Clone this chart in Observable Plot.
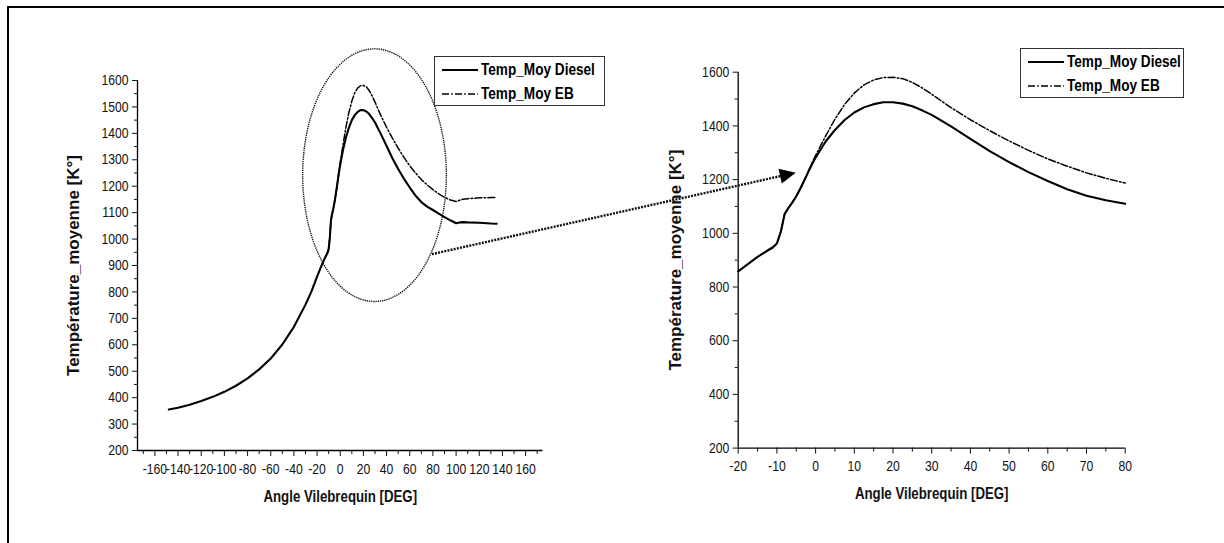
<!DOCTYPE html>
<html>
<head>
<meta charset="utf-8">
<script src="https://cdn.jsdelivr.net/npm/d3@7"></script>
<script src="https://cdn.jsdelivr.net/npm/@observablehq/plot@0.6"></script>
<style>
  html, body { margin: 0; padding: 0; background: #fff; }
  #page { position: relative; width: 1224px; height: 543px; overflow: hidden; background: #fff; }
  #frame { position: absolute; left: 7px; top: 6px; width: 1400px; height: 700px;
           border-left: 2px solid #000; border-top: 2px solid #000; }
  .chart { position: absolute; top: 0; }
  #overlay { position: absolute; left: 0; top: 0; pointer-events: none; }
  .legend { position: absolute; background: #fff; border: 1px solid #333;
            font: bold 17px "Liberation Sans", Arial, sans-serif; color: #000; }
  .legend .row { position: absolute; left: 0; height: 20px; display: flex; align-items: center; white-space: nowrap; }
  .legend svg { display: block; margin-right: 3px; }
  .legend span { display: inline-block; transform: scaleX(0.8); transform-origin: 0 50%; }
</style>
</head>
<body>
<div id="page">
  <div id="frame"></div>
</div>
<script>
// Mean in-cylinder temperature versus crank angle, diesel vs EB fuel
const angleDiesel = [-148, -140, -130, -120, -110, -100, -90, -80, -70, -60, -50, -40, -30, -25,
  -20, -17.5, -15, -12.5, -11, -10, -9, -8, -7, -6, -5, -4, -3, -2, -1, 0, 2.5, 5, 7.5, 10, 12.5,
  15, 17.5, 20, 22.5, 25, 27.5, 30, 35, 40, 45, 50, 55, 60, 65, 70, 75, 80, 85, 90, 95, 100, 103,
  106, 110, 120, 130, 135];
const tempDiesel = [355, 362, 373, 387, 403, 422, 445, 473, 507, 548, 601, 668, 752, 800,
  858, 885, 912, 935, 948, 962, 1005, 1072, 1095, 1115, 1138, 1165, 1195, 1225, 1255, 1282, 1340,
  1385, 1422, 1450, 1469, 1481, 1488, 1488, 1483, 1473, 1458, 1441, 1398, 1352, 1306, 1265, 1228,
  1195, 1164, 1140, 1123, 1110, 1096, 1083, 1071, 1060, 1063, 1064, 1063, 1062, 1059, 1058];

const angleEB = [-12.5, -11, -10, -9, -8, -7, -6, -5, -4, -3, -2, -1, 0, 2.5, 5, 7.5, 10, 12.5,
  15, 17.5, 20, 22.5, 25, 27.5, 30, 35, 40, 45, 50, 55, 60, 65, 70, 75, 80, 85, 90, 95, 100, 103,
  106, 110, 120, 130, 135];
const tempEB = [935, 948, 962, 1005, 1072, 1095, 1115, 1138, 1165, 1195, 1227, 1260, 1290, 1360,
  1425, 1480, 1522, 1553, 1571, 1580, 1581, 1576, 1562, 1542, 1518, 1468, 1423, 1382, 1344, 1309,
  1277, 1250, 1225, 1205, 1187, 1171, 1158, 1148, 1142, 1147, 1151, 1153, 1156, 1157, 1157];

const seriesNames = ["Temp_Moy Diesel", "Temp_Moy EB"];
const xTitle = "Angle Vilebrequin [DEG]";
const yTitle = "Température_moyenne [K°]";

// Full-cycle view
const fullX = { domain: [-175, 175], labeled: d3.range(-160, 161, 20), minor: d3.range(-170, 171, 20) };
const fullY = { domain: [200, 1600], labeled: d3.range(200, 1601, 100), minor: d3.range(250, 1551, 100) };
// Zoom on combustion
const zoomX = { domain: [-20, 80], labeled: d3.range(-20, 81, 10), minor: d3.range(-15, 76, 10) };
const zoomY = { domain: [200, 1600], labeled: d3.range(200, 1601, 200), minor: d3.range(300, 1501, 200) };

// Highlighted region on the full-cycle view (centre and radii in data units)
const focus = { angle: 30, temp: 1240, rAngle: 62, rTemp: 478 };
// Arrow from the highlighted region to the zoomed curve
const arrowFrom = { angle: 79.5, temp: 941 };
const arrowTo = { angle: -5, temp: 1224 };

const dieselRows = angleDiesel.map((a, i) => ({ angle: a, temp: tempDiesel[i] }));
const ebRows = angleEB.map((a, i) => ({ angle: a, temp: tempEB[i] }));

const FONT = '"Liberation Sans", Arial, sans-serif';
const EB_DASH = "7,2.2,1.6,2.2";
const plain = (d) => String(d);

function chart(opts) {
  const { xs, ys, rows, width, height, margin, ytitleDx } = opts;
  const inDomain = (d) => d.angle >= xs.domain[0] && d.angle <= xs.domain[1];
  const svg = Plot.plot({
    width, height,
    marginLeft: margin.left, marginRight: margin.right,
    marginTop: margin.top, marginBottom: margin.bottom,
    x: { domain: xs.domain },
    y: { domain: ys.domain },
    style: { fontFamily: FONT, fontSize: "14.5px", color: "#111", background: "transparent", overflow: "visible" },
    marks: [
      Plot.axisX({ ticks: xs.labeled, tickSize: 6, tickPadding: 7, tickFormat: plain, label: null, fontSize: 14.5 }),
      Plot.axisX({ ticks: xs.minor, tickSize: 4, tickFormat: () => "", label: null }),
      Plot.axisY({ ticks: ys.labeled, tickSize: 5, tickPadding: 4, tickFormat: plain, label: null, fontSize: 14.5 }),
      Plot.axisY({ ticks: ys.minor, tickSize: 3, tickFormat: () => "", label: null }),
      Plot.ruleX([xs.domain[0]], { stroke: "#000", strokeWidth: 1.3 }),
      Plot.ruleY([ys.domain[0]], { stroke: "#000", strokeWidth: 1.3 }),
      Plot.line(rows.diesel.filter(inDomain), { x: "angle", y: "temp", stroke: "#000", strokeWidth: 2.1, strokeLinejoin: "round" }),
      Plot.line(rows.eb.filter(inDomain), { x: "angle", y: "temp", stroke: "#000", strokeWidth: 1.5, strokeDasharray: EB_DASH }),
      Plot.text([xTitle], { text: (d) => d, frameAnchor: "bottom", dy: 51, fontWeight: "bold", fontSize: 17 }),
      Plot.text([yTitle], { text: (d) => d, frameAnchor: "left", textAnchor: "middle", dx: ytitleDx, rotate: -90, fontWeight: "bold", fontSize: 17 })
    ]
  });
  // condensed lettering for ticks and the horizontal title
  svg.querySelectorAll("text").forEach((t) => {
    const tr = t.getAttribute("transform") || "";
    if (tr.includes("rotate")) return;
    const k = t.textContent === xTitle ? 0.78 : 0.84;
    t.setAttribute("transform", (tr + ` scale(${k},1)`).trim());
  });
  return svg;
}

const rows = { diesel: dieselRows, eb: ebRows };
const page = document.getElementById("page");

const leftPos = { left: 0, width: 612 };
const rightPos = { left: 612, width: 612 };

const leftChart = chart({
  xs: fullX, ys: fullY, rows, width: 612, height: 543,
  margin: { left: 137, right: 612 - 542.5, top: 80, bottom: 93 }, ytitleDx: -64
});
const rightChart = chart({
  xs: zoomX, ys: zoomY, rows, width: 612, height: 543,
  margin: { left: 125.7, right: 612 - 512.7, top: 71.7, bottom: 95.4 }, ytitleDx: -63
});

for (const [c, pos] of [[leftChart, leftPos], [rightChart, rightPos]]) {
  c.classList.add("chart");
  c.style.left = pos.left + "px";
  page.appendChild(c);
}

// Page-level scales built from each chart's own scale descriptors
function pageScales(c, pos) {
  const sx = c.scale("x"), sy = c.scale("y");
  return {
    x: d3.scaleLinear(sx.domain, sx.range.map((r) => r + pos.left)),
    y: d3.scaleLinear(sy.domain, sy.range)
  };
}
const L = pageScales(leftChart, leftPos);
const R = pageScales(rightChart, rightPos);

const overlay = d3.select(page).append("svg")
  .attr("id", "overlay").attr("width", 1224).attr("height", 543);

// dotted ellipse around the combustion region
const cx = L.x(focus.angle), cy = L.y(focus.temp);
overlay.append("ellipse")
  .attr("cx", cx).attr("cy", cy)
  .attr("rx", Math.abs(L.x(focus.angle + focus.rAngle) - cx))
  .attr("ry", Math.abs(L.y(focus.temp + focus.rTemp) - cy))
  .attr("fill", "none").attr("stroke", "#111").attr("stroke-width", 1.4)
  .attr("stroke-dasharray", "1.3,0.9");

// dotted arrow to the zoomed view
const x1 = L.x(arrowFrom.angle), y1 = L.y(arrowFrom.temp);
const x2 = R.x(arrowTo.angle), y2 = R.y(arrowTo.temp);
const ang = Math.atan2(y2 - y1, x2 - x1);
const headLen = 16, headHalf = 7.5;
const bx = x2 - headLen * Math.cos(ang), by = y2 - headLen * Math.sin(ang);
overlay.append("line")
  .attr("x1", x1).attr("y1", y1).attr("x2", bx + 2 * Math.cos(ang)).attr("y2", by + 2 * Math.sin(ang))
  .attr("stroke", "#111").attr("stroke-width", 2.4).attr("stroke-dasharray", "2,1.2");
overlay.append("polygon")
  .attr("points", [
    [x2, y2],
    [bx + headHalf * Math.sin(ang), by - headHalf * Math.cos(ang)],
    [bx - headHalf * Math.sin(ang), by + headHalf * Math.cos(ang)]
  ].map((p) => p.join(",")).join(" "))
  .attr("fill", "#000");

// legends
function legend(left, top, width) {
  const box = document.createElement("div");
  box.className = "legend";
  Object.assign(box.style, { left: left + "px", top: top + "px", width: width + "px", height: "48px" });
  seriesNames.forEach((name, i) => {
    const row = document.createElement("div");
    row.className = "row";
    row.style.top = (3 + i * 24) + "px";
    row.style.left = "7px";
    const dash = i === 0 ? null : EB_DASH;
    row.innerHTML = `<svg width="36" height="10"><line x1="0" x2="36" y1="5" y2="5" stroke="#000" stroke-width="${i === 0 ? 2.1 : 1.5}" ${dash ? `stroke-dasharray="${dash}"` : ""}/></svg><span>${name}</span>`;
    box.appendChild(row);
  });
  page.appendChild(box);
}
legend(434, 56, 169);
legend(1020, 47.5, 162);
</script>
</body>
</html>
